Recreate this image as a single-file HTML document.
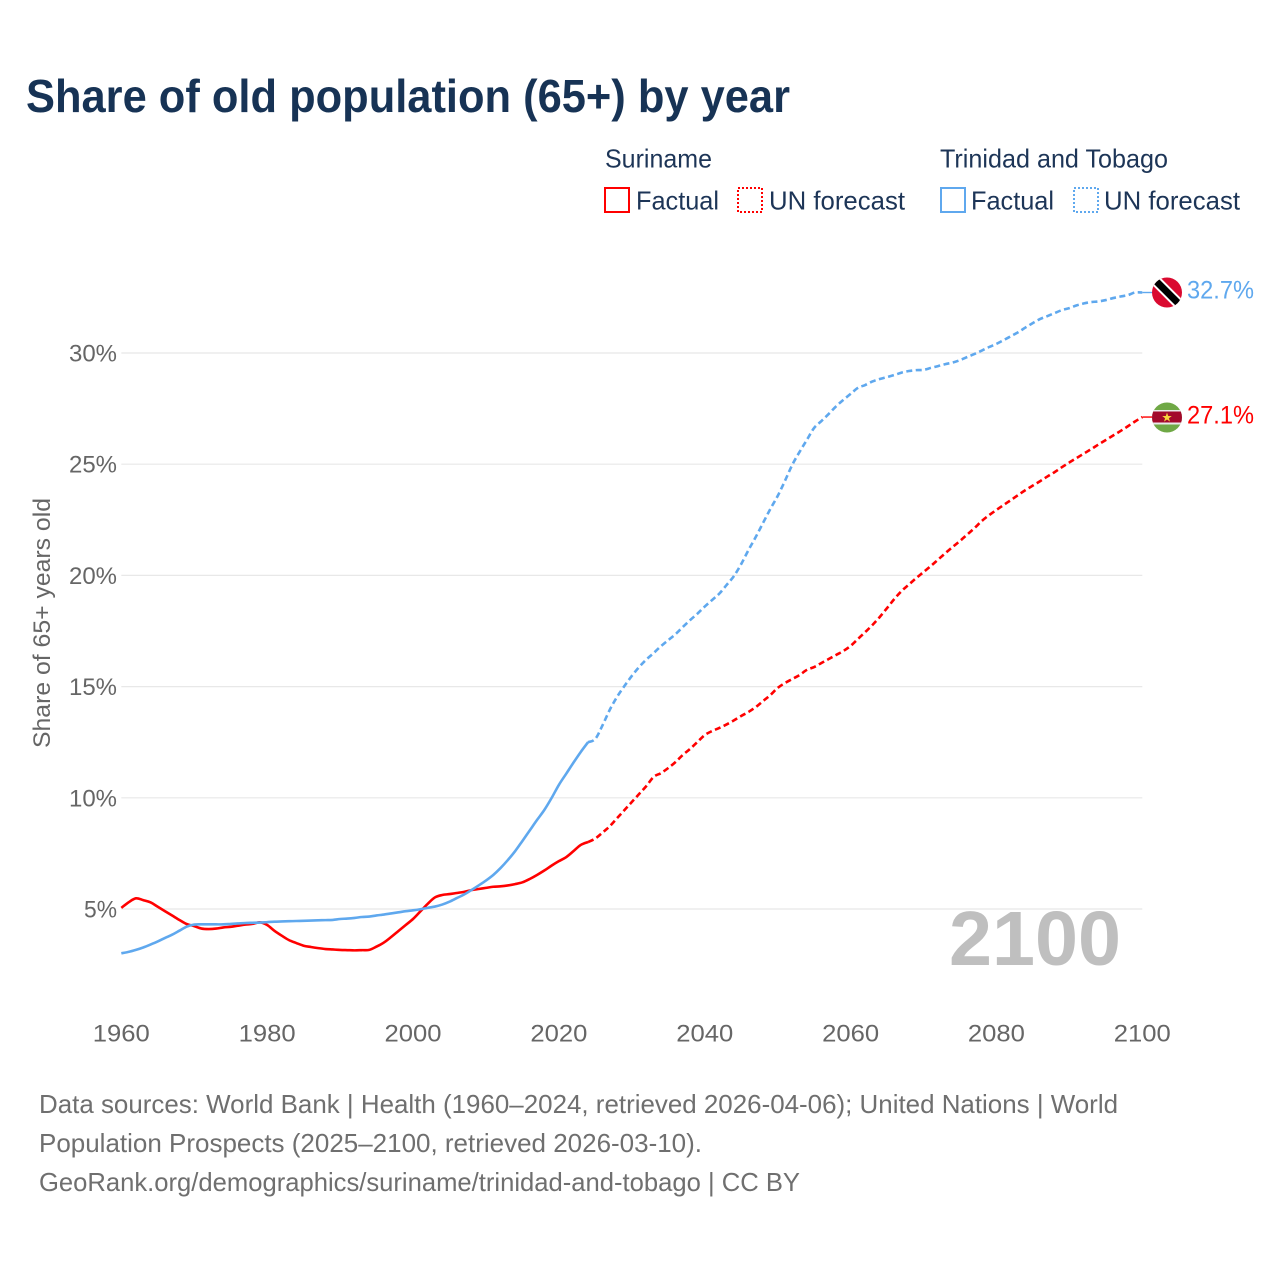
<!DOCTYPE html>
<html lang="en">
<head>
<meta charset="utf-8">
<title>Share of old population (65+) by year</title>
<style>
html,body{margin:0;padding:0;background:#fff;}
svg{display:block;}
text{font-family:"Liberation Sans",sans-serif;}
</style>
</head>
<body>
<svg id="chart" xmlns="http://www.w3.org/2000/svg" width="1280" height="1280" viewBox="0 0 1280 1280">
  <rect width="1280" height="1280" fill="#ffffff"/>
  <defs>
    <clipPath id="clip-tt"><circle cx="1167" cy="292.5" r="15"/></clipPath>
    <clipPath id="clip-sr"><circle cx="1167" cy="417.5" r="15"/></clipPath>
  </defs>

  <text x="26" y="112" font-size="46" font-weight="700" fill="#173355" textLength="764" lengthAdjust="spacingAndGlyphs">Share of old population (65+) by year</text>

  <g font-size="26" fill="#1d3557">
    <text x="605" y="167.5" textLength="107" lengthAdjust="spacingAndGlyphs">Suriname</text>
    <text x="940" y="167.5" textLength="228" lengthAdjust="spacingAndGlyphs">Trinidad and Tobago</text>
    <rect x="605" y="188" width="24" height="24" fill="none" stroke="#ff0000" stroke-width="2"/>
    <text x="636" y="209.5" textLength="83" lengthAdjust="spacingAndGlyphs">Factual</text>
    <rect x="738" y="188" width="24" height="24" fill="none" stroke="#ff0000" stroke-width="2" stroke-dasharray="2 2"/>
    <text x="769" y="209.5" textLength="136" lengthAdjust="spacingAndGlyphs">UN forecast</text>
    <rect x="941" y="188" width="24" height="24" fill="none" stroke="#5fa8ee" stroke-width="2"/>
    <text x="971" y="209.5" textLength="83" lengthAdjust="spacingAndGlyphs">Factual</text>
    <rect x="1074" y="188" width="24" height="24" fill="none" stroke="#5fa8ee" stroke-width="2" stroke-dasharray="2 2"/>
    <text x="1104" y="209.5" textLength="136" lengthAdjust="spacingAndGlyphs">UN forecast</text>
  </g>

  <g id="grid"></g>
  <g id="yticks" font-size="24" fill="#666666" text-anchor="end"></g>
  <g id="xticks" font-size="24" fill="#666666" text-anchor="middle"></g>
  <text transform="translate(50,748) rotate(-90)" font-size="24" fill="#666666" textLength="250" lengthAdjust="spacingAndGlyphs">Share of 65+ years old</text>

  <text x="949" y="965" font-size="77" font-weight="700" fill="#bfbfbf" textLength="172" lengthAdjust="spacingAndGlyphs">2100</text>

  <g id="series"></g>

  <g clip-path="url(#clip-tt)">
    <rect x="1152" y="277" width="30" height="31" fill="#da0a30"/>
    <line x1="1150" y1="275" x2="1184" y2="309" stroke="#ffffff" stroke-width="11"/>
    <line x1="1150" y1="275" x2="1184" y2="309" stroke="#000000" stroke-width="7"/>
  </g>
  <g clip-path="url(#clip-sr)">
    <rect x="1152" y="402" width="30" height="31" fill="#6fa845"/>
    <rect x="1152" y="410" width="30" height="14.5" fill="#e9e9e9"/>
    <rect x="1152" y="411.5" width="30" height="11" fill="#a3092a"/>
    <polygon points="1167,412.6 1168.2,416 1171.8,416 1168.9,418.2 1170,421.6 1167,419.5 1164,421.6 1165.1,418.2 1162.2,416 1165.8,416" fill="#f6d33c"/>
  </g>
  <text x="1187" y="298.5" font-size="25" fill="#5fa8ee" textLength="67" lengthAdjust="spacingAndGlyphs">32.7%</text>
  <text x="1187" y="423.5" font-size="25" fill="#ff0000" textLength="67" lengthAdjust="spacingAndGlyphs">27.1%</text>

  <g font-size="26" fill="#6f6f6f">
    <text x="39" y="1113" textLength="1079" lengthAdjust="spacingAndGlyphs">Data sources: World Bank | Health (1960–2024, retrieved 2026-04-06); United Nations | World</text>
    <text x="39" y="1152" textLength="663" lengthAdjust="spacingAndGlyphs">Population Prospects (2025–2100, retrieved 2026-03-10).</text>
    <text x="39" y="1191" textLength="761" lengthAdjust="spacingAndGlyphs">GeoRank.org/demographics/suriname/trinidad-and-tobago | CC BY</text>
  </g>
</svg>
<script>
const yTickValues = [5, 10, 15, 20, 25, 30];
const xTickYears = [1960, 1980, 2000, 2020, 2040, 2060, 2080, 2100];
const firstYear = 1960;
const lastFactualYear = 2024;

const surinameFactual = [
5.05,5.3,5.48,5.4,5.3,5.1,4.9,4.7,4.5,4.32,
4.23,4.12,4.1,4.12,4.17,4.2,4.25,4.3,4.33,4.4,
4.28,4.02,3.8,3.6,3.47,3.35,3.29,3.24,3.2,3.18,
3.16,3.15,3.14,3.15,3.16,3.31,3.49,3.74,4.01,4.28,
4.55,4.89,5.23,5.52,5.63,5.67,5.72,5.77,5.85,5.9,
5.95,6.0,6.02,6.06,6.12,6.2,6.35,6.53,6.73,6.95,
7.15,7.33,7.6,7.88,8.01];
const surinameForecast = [
8.17,8.44,8.73,9.09,9.45,9.81,10.17,10.53,10.94,11.11,
11.34,11.61,11.93,12.2,12.51,12.82,13.0,13.14,13.3,13.48,
13.68,13.86,14.08,14.35,14.62,14.94,15.16,15.34,15.52,15.75,
15.88,16.06,16.24,16.42,16.6,16.83,17.14,17.45,17.77,18.13,
18.53,18.94,19.3,19.59,19.88,20.15,20.42,20.71,21.0,21.28,
21.55,21.84,22.13,22.45,22.71,22.94,23.17,23.39,23.62,23.84,
24.04,24.24,24.45,24.65,24.87,25.08,25.28,25.48,25.68,25.89,
26.09,26.29,26.49,26.7,26.92,27.12];
const trinidadFactual = [
3.01,3.07,3.16,3.27,3.4,3.54,3.7,3.85,4.03,4.21,
4.3,4.31,4.31,4.31,4.31,4.33,4.35,4.37,4.38,4.39,
4.41,4.43,4.44,4.45,4.46,4.47,4.48,4.49,4.5,4.51,
4.55,4.57,4.6,4.64,4.66,4.71,4.75,4.8,4.85,4.9,
4.94,4.99,5.05,5.11,5.2,5.33,5.49,5.65,5.85,6.06,
6.28,6.53,6.84,7.2,7.6,8.06,8.53,9.0,9.45,9.99,
10.58,11.08,11.58,12.06,12.5];
const trinidadForecast = [
12.65,13.27,13.97,14.55,15.03,15.48,15.88,16.22,16.51,16.82,
17.09,17.36,17.68,17.99,18.28,18.6,18.89,19.18,19.57,19.97,
20.51,21.14,21.73,22.36,22.99,23.57,24.25,24.97,25.55,26.09,
26.63,26.94,27.26,27.6,27.89,28.16,28.43,28.56,28.72,28.83,
28.92,29.01,29.12,29.19,29.23,29.24,29.33,29.41,29.5,29.57,
29.68,29.82,29.96,30.11,30.27,30.41,30.58,30.76,30.94,31.15,
31.35,31.53,31.66,31.8,31.93,32.02,32.14,32.23,32.29,32.32,
32.38,32.47,32.54,32.6,32.72,32.72];

const NS = 'http://www.w3.org/2000/svg';
function xScale(year) { return 121.3 + (year - 1960) * (1142.3 - 121.3) / 140; }
function yScale(v) { return 1020.2 - v * 22.24; }
function pathFrom(startYear, values) {
  const pts = values.map(function (v, i) { return [xScale(startYear + i), yScale(v)]; });
  let d = 'M' + pts[0][0].toFixed(2) + ' ' + pts[0][1].toFixed(2);
  for (let i = 0; i < pts.length - 1; i++) {
    const p0 = pts[Math.max(i - 1, 0)], p1 = pts[i], p2 = pts[i + 1], p3 = pts[Math.min(i + 2, pts.length - 1)];
    const c1x = p1[0] + (p2[0] - p0[0]) / 6, c1y = p1[1] + (p2[1] - p0[1]) / 6;
    const c2x = p2[0] - (p3[0] - p1[0]) / 6, c2y = p2[1] - (p3[1] - p1[1]) / 6;
    d += ' C' + c1x.toFixed(2) + ' ' + c1y.toFixed(2) + ' ' + c2x.toFixed(2) + ' ' + c2y.toFixed(2) + ' ' + p2[0].toFixed(2) + ' ' + p2[1].toFixed(2);
  }
  return d;
}
function makeLine(d, color, width, dash) {
  const p = document.createElementNS(NS, 'path');
  p.setAttribute('d', d);
  p.setAttribute('fill', 'none');
  p.setAttribute('stroke', color);
  p.setAttribute('stroke-width', width);
  p.setAttribute('stroke-linejoin', 'round');
  if (dash) p.setAttribute('stroke-dasharray', dash);
  document.getElementById('series').appendChild(p);
  return p;
}

yTickValues.forEach(function (v) {
  const g = document.createElementNS(NS, 'line');
  
  
  g.setAttribute('x1', xScale(1960));
  g.setAttribute('x2', xScale(2100));
  g.setAttribute('y1', yScale(v));
  g.setAttribute('y2', yScale(v));
  g.setAttribute('stroke', '#e8e8e8');
  g.setAttribute('stroke-width', '1.2');
  document.getElementById('grid').appendChild(g);
  const t = document.createElementNS(NS, 'text');
  
  
  t.setAttribute('x', 117);
  t.setAttribute('y', yScale(v) + 8.5);
  t.setAttribute('textLength', v < 10 ? 33 : 48);
  t.setAttribute('lengthAdjust', 'spacingAndGlyphs');
  t.textContent = v + '%';
  document.getElementById('yticks').appendChild(t);
});

xTickYears.forEach(function (y) {
  const t = document.createElementNS(NS, 'text');
  
  
  t.setAttribute('x', xScale(y));
  t.setAttribute('y', 1041.5);
  t.setAttribute('textLength', 57);
  t.setAttribute('lengthAdjust', 'spacingAndGlyphs');
  t.textContent = y;
  document.getElementById('xticks').appendChild(t);
});

const RED = '#ff0000';
const BLUE = '#5fa8ee';
const DASH = '6 3.5';

const srF = makeLine(pathFrom(firstYear, surinameFactual), RED, 2.6);


const srP = makeLine(pathFrom(lastFactualYear, [surinameFactual[surinameFactual.length - 1]].concat(surinameForecast)), RED, 2.6, DASH);


const srLast = surinameForecast[surinameForecast.length - 1];
const srC = makeLine('M' + xScale(2100) + ' ' + yScale(srLast) + ' L1153 ' + yScale(srLast), RED, 1.4);



const ttF = makeLine(pathFrom(firstYear, trinidadFactual), BLUE, 2.6);


const ttP = makeLine(pathFrom(lastFactualYear, [trinidadFactual[trinidadFactual.length - 1]].concat(trinidadForecast)), BLUE, 2.6, DASH);


const ttLast = trinidadForecast[trinidadForecast.length - 1];
const ttC = makeLine('M' + xScale(2100) + ' ' + yScale(ttLast) + ' L1153 ' + yScale(ttLast), BLUE, 1.4);


</script>
</body>
</html>
